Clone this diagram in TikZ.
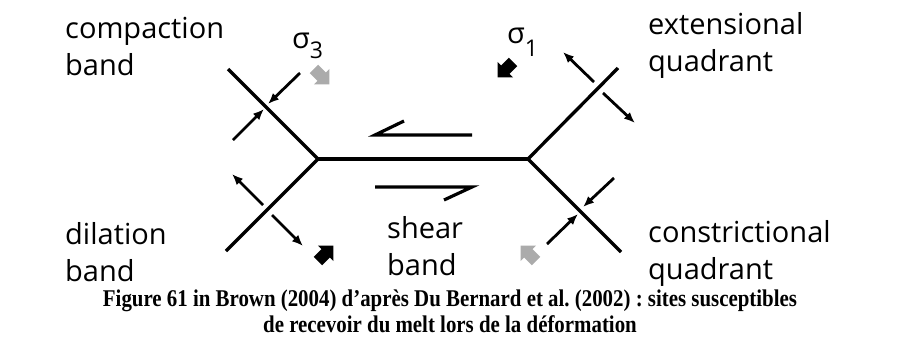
\documentclass[tikz,border=0pt]{standalone}
\usepackage{fontspec}
\usepackage{graphicx}
\setmainfont{Liberation Serif}
\newfontfamily\labelfont{Open Sans}
\usetikzlibrary{arrows.meta}

\newcommand\narrowline[1]{\scalebox{0.87}[1]{#1}}
\tikzset{
  stressarrow/.pic={\fill (-10,-6) -- (1,-6) -- (1,-11) -- (12,0) -- (1,11) -- (1,6) -- (-10,6) -- cycle;}
}

\begin{document}
\frenchspacing
\begin{tikzpicture}[x=1pt,y=-1pt,
  fault/.style={line width=3.3pt,line join=miter},
  push/.style={line width=2.8pt,-{Latex[length=11pt,width=9pt]}},
  sense/.style={line width=3.2pt,line join=miter},
  lbl/.style={font=\labelfont\fontsize{29}{37}\selectfont,align=left,inner sep=0pt,anchor=base west},
  sig/.style={font=\labelfont\fontsize{29}{29}\selectfont,inner sep=0pt,anchor=base west},
  caption/.style={font=\bfseries\fontsize{24}{26}\selectfont,align=center,inner sep=0pt}]
  \useasboundingbox (0,0) rectangle (900,349);

  % fault geometry
  \coordinate (jl) at (318,159);
  \coordinate (jr) at (528,159);
  \coordinate (ul) at (228,69);
  \coordinate (ll) at (226,251);
  \coordinate (ur) at (618,68);
  \coordinate (lr) at (621,252);
  \draw[fault] (ul) -- (jl) -- (ll);
  \draw[fault] (jl) -- (jr);
  \draw[fault] (ur) -- (jr) -- (lr);

  % sense of shear
  \coordinate (s1a) at (472,135);
  \coordinate (s1b) at (375,135);
  \coordinate (s1c) at (404,121);
  \coordinate (s2a) at (375,187);
  \coordinate (s2b) at (472,187);
  \coordinate (s2c) at (444,200);
  \draw[sense] (s1a) -- (s1b) -- (s1c);
  \draw[sense] (s2a) -- (s2b) -- (s2c);

  % compaction band
  \coordinate (c1) at (300,73);  \coordinate (c1t) at (268,104);
  \coordinate (c2) at (233,140); \coordinate (c2t) at (264,109);
  \draw[push] (c1) -- (c1t);
  \draw[push] (c2) -- (c2t);
  % dilation band
  \coordinate (d1) at (263,205); \coordinate (d1t) at (232,174);
  \coordinate (d2) at (272,215); \coordinate (d2t) at (303,246);
  \draw[push] (d1) -- (d1t);
  \draw[push] (d2) -- (d2t);
  % extensional quadrant
  \coordinate (e1) at (594,82);  \coordinate (e1t) at (563,52);
  \coordinate (e2) at (603,93);  \coordinate (e2t) at (635,123);
  \draw[push] (e1) -- (e1t);
  \draw[push] (e2) -- (e2t);
  % constrictional quadrant
  \coordinate (k1) at (614,178); \coordinate (k1t) at (583,207);
  \coordinate (k2) at (547,244); \coordinate (k2t) at (578,214);
  \draw[push] (k1) -- (k1t);
  \draw[push] (k2) -- (k2t);

  % principal stresses
  \pic[fill=black!33,rotate=-45] at (321,76) {stressarrow};
  \pic[fill=black,rotate=-135] at (506,69) {stressarrow};
  \pic[fill=black,rotate=45] at (325,254) {stressarrow};
  \pic[fill=black!33,rotate=135] at (529,254) {stressarrow};
  \node[sig] (sig3) at (292,48) {σ\raisebox{-10pt}{\fontsize{23}{23}\selectfont 3}};
  \node[sig] (sig1) at (507,43) {σ\raisebox{-13pt}{\fontsize{23}{23}\selectfont 1}};

  % labels (anchored on the baseline of their last line)
  \node[lbl] (comp) at (65,75) {compaction\\band};
  \node[lbl] (ext) at (648,71) {extensional\\quadrant};
  \node[lbl] (dil) at (65,281) {dilation\\band};
  \node[lbl] (shear) at (387,275) {shear\\band};
  \node[lbl] (cons) at (648,279) {constrictional\\quadrant};

  \node[caption,anchor=north] (cap) at (450,290)
    {\narrowline{Figure 61 in Brown (2004) d’après Du Bernard et al. (2002) : sites susceptibles}\\
     \narrowline{de recevoir du melt lors de la déformation}};
\end{tikzpicture}
\end{document}
